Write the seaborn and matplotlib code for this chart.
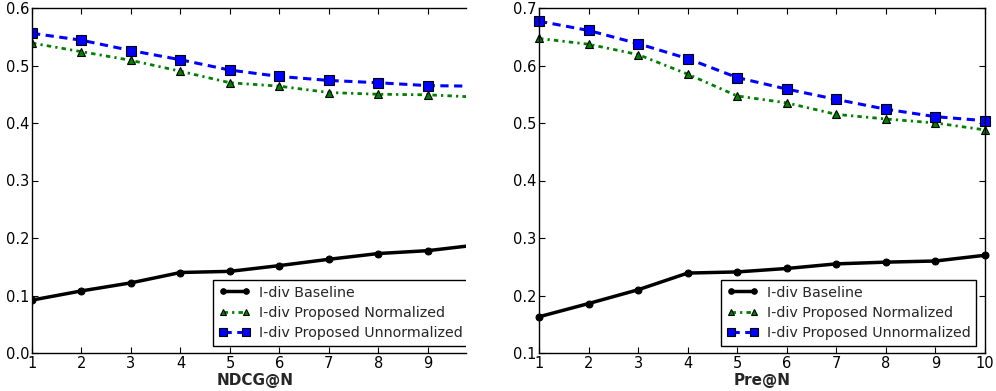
import numpy as np
import pandas as pd
import matplotlib
matplotlib.use("Agg")
import matplotlib.pyplot as plt
import seaborn as sns

# ---- data ----
n_values = [1, 2, 3, 4, 5, 6, 7, 8, 9, 10]

ndcg_baseline = [0.092, 0.108, 0.122, 0.140, 0.142, 0.152, 0.163, 0.173, 0.178, 0.188]
ndcg_normalized = [0.539, 0.524, 0.509, 0.490, 0.470, 0.464, 0.453, 0.450, 0.449, 0.445]
ndcg_unnormalized = [0.556, 0.544, 0.526, 0.510, 0.492, 0.481, 0.474, 0.470, 0.465, 0.464]

pre_baseline = [0.163, 0.186, 0.210, 0.239, 0.241, 0.247, 0.255, 0.258, 0.260, 0.270]
pre_normalized = [0.647, 0.637, 0.619, 0.585, 0.547, 0.535, 0.515, 0.507, 0.500, 0.488]
pre_unnormalized = [0.677, 0.661, 0.638, 0.612, 0.579, 0.559, 0.541, 0.524, 0.511, 0.504]

series_labels = ["I-div Baseline", "I-div Proposed Normalized", "I-div Proposed Unnormalized"]
xlabels = ["NDCG@N", "Pre@N"]

sns.set_style("ticks")
plt.rcParams["font.family"] = ["DejaVu Sans"]
plt.rcParams["xtick.direction"] = "in"
plt.rcParams["ytick.direction"] = "in"

fig = plt.figure(figsize=(9.96, 3.91), dpi=100)
W, H = 996, 391
ax1 = fig.add_axes([32 / W, 1 - 353 / H, (466 - 32) / W, 345 / H])
ax2 = fig.add_axes([539 / W, 1 - 353 / H, (985 - 539) / W, 345 / H])

styles = [
    dict(color="black", linestyle="-", linewidth=2.5, marker="o", markersize=5,
         markerfacecolor="black", markeredgecolor="black"),
    dict(color="green", linestyle=(0, (1.6, 1.5, 0.8, 1.5)), linewidth=2.0, marker="^",
         markersize=6, markerfacecolor="green", markeredgecolor="black", markeredgewidth=0.8),
    dict(color="blue", linestyle=(0, (2.7, 1.8)), linewidth=2.2, marker="s",
         markersize=6.5, markerfacecolor="blue", markeredgecolor="black", markeredgewidth=0.8),
]


def draw(ax, series, xlabel, ylim, yticks, xlim, label_x, leg_anchor, clip_legend):
    for vals, lab, st in zip(series, series_labels, styles):
        df = pd.DataFrame({"N": n_values, "v": vals})
        sns.lineplot(data=df, x="N", y="v", ax=ax, label=lab, clip_on=False, **st)
    ax.set_xlim(*xlim)
    ax.set_ylim(*ylim)
    ax.set_yticks(yticks)
    ax.set_yticklabels([f"{t:.1f}" for t in yticks])
    ax.set_xticks([n for n in n_values if n <= xlim[1]])
    ax.set_xlabel(xlabel, fontsize=11, fontweight="bold")
    ax.xaxis.set_label_coords(label_x, -0.058, transform=ax.transAxes)
    ax.xaxis.label.set_va("top")
    ax.set_ylabel("")
    ax.tick_params(axis="both", which="both", direction="in", length=4, width=0.8,
                   labelsize=10.5, pad=2, top=True, right=not clip_legend, colors="black")
    for s in ax.spines.values():
        s.set_color("black")
        s.set_linewidth(1.0)
    if clip_legend:
        ax.spines["right"].set_visible(False)
    leg = ax.legend(loc="lower left", bbox_to_anchor=leg_anchor, fontsize=10.3,
                    numpoints=2, handlelength=2.2, handletextpad=0.6, labelspacing=0.45,
                    borderpad=0.4, frameon=True, fancybox=False, framealpha=1,
                    edgecolor="black", borderaxespad=0, markerscale=0.8)
    leg.get_frame().set_linewidth(1.0)
    if clip_legend:
        leg.legendPatch.set_clip_box(ax.bbox)
        leg.legendPatch.set_clip_on(True)


draw(ax1, [ndcg_baseline, ndcg_normalized, ndcg_unnormalized], xlabels[0],
     (0.0, 0.6), [0.0, 0.1, 0.2, 0.3, 0.4, 0.5, 0.6], (1, 9.77), 0.513, (0.417, 0.02), True)
draw(ax2, [pre_baseline, pre_normalized, pre_unnormalized], xlabels[1],
     (0.1, 0.7), [0.1, 0.2, 0.3, 0.4, 0.5, 0.6, 0.7], (1, 10), 0.5, (0.408, 0.02), False)

# the left panel is cut at its right edge: clip its lines to the axes
for line in ax1.get_lines():
    line.set_clip_on(True)

fig.savefig("out.png", dpi=100)
